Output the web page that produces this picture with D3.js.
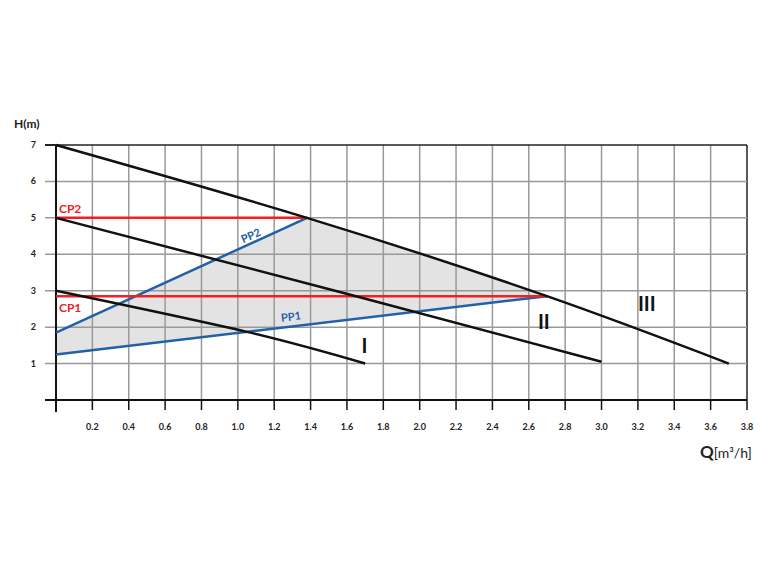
<!DOCTYPE html>
<html><head><meta charset="utf-8">
<script src="https://cdn.jsdelivr.net/npm/d3@7"></script>
<style>body{margin:0;background:#fff}text{font-family:"Lato","DejaVu Sans",sans-serif;font-weight:bold}</style>
</head><body><svg id="svg" width="774" height="570"></svg>
<script>
const xTicks = [0.2,0.4,0.6,0.8,1.0,1.2,1.4,1.6,1.8,2.0,2.2,2.4,2.6,2.8,3.0,3.2,3.4,3.6,3.8];
const yTicks = [1,2,3,4,5,6,7];
const curveI = [[0,3],[1.05,1.87],[1.7,1]];
const curveII = [[0,5],[1.65,2.85],[3.0,1.05]];
const curveIII = [[0,7],[1.38,5],[2.7,2.85],[3.7,1]];
const cp1 = [[0,2.85],[2.7,2.85]];
const cp2 = [[0,5],[1.38,5]];
const pp1 = [[0,1.25],[2.7,2.85]];
const pp2 = [[0,1.85],[1.38,5]];
const shadeEdge = [[1.38,5],[2.0,4.0],[2.7,2.85]];
const curveLabels = [['I',1.68,1.3],['II',2.65,1.95],['III',3.2,2.45]];

const svg = d3.select('#svg');
const x = d3.scaleLinear().domain([0,3.8]).range([56,747]);
const y = d3.scaleLinear().domain([0,7]).range([400,145]);
const line = d3.line().x(d=>x(d[0])).y(d=>y(d[1]));
const smooth = d3.line().x(d=>x(d[0])).y(d=>y(d[1])).curve(d3.curveNatural);

// shaded region: PP1 -> III (sampled from its path) -> PP2 -> axis
const tmp = svg.append('path').attr('d', smooth(curveIII)).attr('fill','none');
const node = tmp.node(), L = node.getTotalLength();
const edge = [];
for (let i = 0; i <= 400; i++) {
  const p = node.getPointAtLength(L * i / 400);
  if (p.x >= x(1.38) && p.x <= x(2.7)) edge.push([p.x, p.y]);
}
tmp.remove();
const poly = [[x(0),y(1.25)],[x(2.7),y(2.85)]].concat(edge.reverse()).concat([[x(1.38),y(5)],[x(0),y(1.85)]]);
svg.append('polygon').attr('points', poly.map(p=>p.join(',')).join(' ')).attr('fill','#e3e3e3');

// grid
svg.selectAll('.gx').data(xTicks).enter().append('line')
  .attr('x1',d=>x(d)).attr('x2',d=>x(d)).attr('y1',y(7)).attr('y2',y(0))
  .attr('stroke',d=>d===3.8?'#222':'#999').attr('stroke-width',1.5);
svg.selectAll('.gy').data(yTicks).enter().append('line')
  .attr('x1',45).attr('x2',x(3.8)).attr('y1',d=>y(d)).attr('y2',d=>y(d))
  .attr('stroke',d=>d===7?'#222':'#999').attr('stroke-width',1.5);
svg.append('line').attr('x1',x(0)).attr('x2',x(0)).attr('y1',y(7)).attr('y2',y(0)+12).attr('stroke','#111').attr('stroke-width',2);
svg.append('line').attr('x1',45).attr('x2',x(3.8)).attr('y1',y(0)).attr('y2',y(0)).attr('stroke','#111').attr('stroke-width',2);
svg.selectAll('.tx').data(xTicks).enter().append('line')
  .attr('x1',d=>x(d)).attr('x2',d=>x(d)).attr('y1',y(0)).attr('y2',y(0)+10).attr('stroke','#111').attr('stroke-width',1.5);
svg.append('line').attr('x1',45).attr('x2',x(0)).attr('y1',y(7)).attr('y2',y(7)).attr('stroke','#111').attr('stroke-width',1.5);

svg.selectAll('.lx').data(xTicks).enter().append('text')
  .attr('x',d=>x(d)).attr('y',430).attr('text-anchor','middle').attr('font-size',9).attr('fill','#222')
  .text(d=>d.toFixed(1));
svg.selectAll('.ly').data(yTicks).enter().append('text')
  .attr('x',36).attr('y',d=>y(d)+3).attr('text-anchor','end').attr('font-size',9).attr('fill','#222')
  .text(d=>d);
svg.append('text').attr('x',14).attr('y',128).attr('font-size',12).attr('fill','#222').text('H(m)');
const q = svg.append('text').attr('x',700).attr('y',458).attr('fill','#222');
q.append('tspan').attr('font-size',17).text('Q');
q.append('tspan').attr('font-size',14).attr('font-weight','normal').text('[m³/h]');

[[pp1,'#2261a8',line],[pp2,'#2261a8',line],[cp1,'#ee2222',line],[cp2,'#ee2222',line],
 [curveI,'#111',smooth],[curveII,'#111',smooth],[curveIII,'#111',smooth]]
  .forEach(([d,c,g])=>svg.append('path').attr('d',g(d)).attr('fill','none').attr('stroke',c).attr('stroke-width',2.5));

svg.append('text').attr('x',x(0)+3).attr('y',y(5)-5).attr('fill','#ee2222').attr('font-size',12).attr('font-weight','normal').text('CP2');
svg.append('text').attr('x',x(0)+3).attr('y',y(2.85)+16).attr('fill','#ee2222').attr('font-size',12).attr('font-weight','normal').text('CP1');
const ang = (a,b)=>Math.atan2(y(b[1])-y(a[1]),x(b[0])-x(a[0]))*180/Math.PI;
svg.append('text').attr('transform',`translate(${x(1.03)},${y(4.3)}) rotate(${ang(pp2[0],pp2[1])})`).attr('fill','#2261a8').attr('font-size',11).text('PP2');
svg.append('text').attr('transform',`translate(${x(1.24)},${y(2.15)}) rotate(${ang(pp1[0],pp1[1])})`).attr('fill','#2261a8').attr('font-size',11).text('PP1');
svg.selectAll('.cl').data(curveLabels).enter().append('text')
  .attr('x',d=>x(d[1])).attr('y',d=>y(d[2])).attr('font-size',20).attr('fill','#111').text(d=>d[0]);
</script></body></html>
